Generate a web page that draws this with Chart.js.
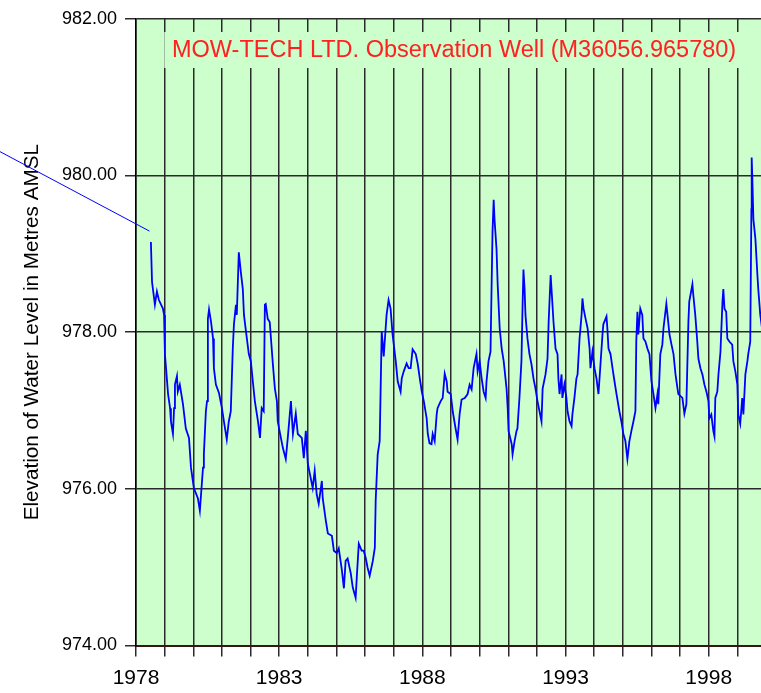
<!DOCTYPE html>
<html><head><meta charset="utf-8">
<script src="https://cdn.jsdelivr.net/npm/chart.js@4"></script>
<style>html,body{margin:0;padding:0;overflow:hidden;background:#fff;width:761px;height:693px}canvas{display:block}</style>
</head><body>
<canvas id="c" width="775" height="693" style="width:775px;height:693px"></canvas>
<script>
const titleText = 'MOW-TECH LTD. Observation Well (M36056.965780)';
const yAxisTitle = 'Elevation of Water Level in Metres AMSL';

const years = [1978.52,1978.56,1978.66,1978.73,1978.80,1978.94,1978.98,1979.01,1979.12,1979.19,1979.22,1979.29,1979.33,1979.36,1979.43,1979.46,1979.53,1979.64,1979.74,1979.85,1979.92,1980.02,1980.16,1980.23,1980.34,1980.37,1980.44,1980.48,1980.51,1980.55,1980.62,1980.69,1980.72,1980.79,1980.90,1981.00,1981.07,1981.17,1981.24,1981.31,1981.38,1981.42,1981.49,1981.52,1981.59,1981.66,1981.73,1981.77,1981.84,1981.94,1982.01,1982.08,1982.15,1982.26,1982.33,1982.39,1982.46,1982.50,1982.53,1982.60,1982.67,1982.78,1982.85,1982.92,1982.95,1983.06,1983.13,1983.23,1983.30,1983.41,1983.48,1983.58,1983.65,1983.79,1983.86,1983.93,1984.00,1984.10,1984.17,1984.24,1984.31,1984.38,1984.49,1984.52,1984.63,1984.70,1984.84,1984.91,1985.01,1985.08,1985.19,1985.26,1985.32,1985.39,1985.50,1985.57,1985.67,1985.71,1985.78,1985.88,1985.95,1986.02,1986.09,1986.16,1986.27,1986.34,1986.37,1986.44,1986.51,1986.58,1986.65,1986.75,1986.82,1986.89,1986.96,1987.07,1987.14,1987.24,1987.28,1987.35,1987.45,1987.52,1987.59,1987.66,1987.77,1987.84,1987.91,1987.98,1988.05,1988.15,1988.19,1988.25,1988.32,1988.36,1988.43,1988.50,1988.53,1988.64,1988.71,1988.78,1988.85,1988.88,1988.99,1989.06,1989.16,1989.23,1989.30,1989.37,1989.48,1989.58,1989.65,1989.72,1989.79,1989.89,1989.93,1990.00,1990.07,1990.14,1990.21,1990.24,1990.31,1990.38,1990.42,1990.45,1990.49,1990.52,1990.59,1990.63,1990.70,1990.77,1990.84,1990.94,1990.98,1991.01,1991.12,1991.15,1991.22,1991.29,1991.32,1991.39,1991.46,1991.50,1991.53,1991.57,1991.60,1991.67,1991.74,1991.81,1991.88,1991.95,1992.02,1992.09,1992.16,1992.20,1992.30,1992.37,1992.41,1992.48,1992.51,1992.58,1992.65,1992.72,1992.75,1992.79,1992.86,1992.89,1992.96,1993.03,1993.07,1993.14,1993.21,1993.24,1993.31,1993.38,1993.42,1993.49,1993.56,1993.59,1993.63,1993.70,1993.77,1993.84,1993.87,1993.94,1994.01,1994.08,1994.15,1994.22,1994.29,1994.32,1994.43,1994.46,1994.50,1994.57,1994.64,1994.71,1994.78,1994.88,1994.95,1995.02,1995.09,1995.16,1995.23,1995.30,1995.37,1995.44,1995.47,1995.51,1995.54,1995.61,1995.68,1995.72,1995.79,1995.86,1995.93,1996.00,1996.07,1996.14,1996.21,1996.24,1996.31,1996.38,1996.42,1996.52,1996.56,1996.63,1996.70,1996.77,1996.84,1996.91,1996.94,1997.08,1997.15,1997.22,1997.29,1997.32,1997.43,1997.46,1997.53,1997.60,1997.64,1997.71,1997.78,1997.85,1997.92,1997.99,1998.02,1998.09,1998.16,1998.20,1998.23,1998.30,1998.34,1998.41,1998.48,1998.51,1998.55,1998.61,1998.65,1998.72,1998.82,1998.86,1998.93,1999.00,1999.03,1999.10,1999.17,1999.21,1999.28,1999.35,1999.38,1999.45,1999.49,1999.50,1999.52,1999.56,1999.63,1999.70,1999.73,1999.80,1999.86];

const levels = [979.15,978.64,978.35,978.52,978.41,978.30,978.22,977.72,977.21,977.03,976.86,976.70,977.03,977.33,977.44,977.24,977.33,977.08,976.77,976.65,976.27,976.01,975.88,975.72,976.27,976.44,976.99,977.12,978.17,978.29,978.13,977.92,977.54,977.33,977.22,977.03,976.86,976.63,976.86,976.99,977.79,978.10,978.35,978.22,979.02,978.77,978.55,978.22,978.01,977.72,977.63,977.37,977.12,976.86,976.65,977.03,976.99,978.35,978.36,978.17,978.13,977.59,977.28,977.12,976.86,976.65,976.52,976.38,976.65,977.12,976.70,976.96,976.70,976.65,976.39,976.74,976.32,976.14,976.01,976.23,975.93,975.81,976.10,975.88,975.59,975.43,975.40,975.21,975.18,975.24,974.96,974.73,975.08,975.11,974.92,974.74,974.61,974.87,975.30,975.21,975.21,975.12,974.99,974.89,975.08,975.25,975.85,976.44,976.61,978.01,977.69,978.22,978.41,978.30,977.97,977.63,977.37,977.24,977.41,977.50,977.60,977.54,977.54,977.78,977.72,977.59,977.41,977.24,977.12,976.90,976.70,976.58,976.57,976.70,976.61,976.95,977.03,977.12,977.16,977.47,977.37,977.24,977.21,976.99,976.77,976.63,976.95,977.14,977.16,977.21,977.33,977.27,977.54,977.72,977.50,977.63,977.41,977.24,977.16,977.37,977.63,977.75,978.64,979.28,979.69,979.44,979.06,978.61,978.05,977.79,977.63,977.28,977.03,976.74,976.57,976.44,976.61,976.74,976.77,977.16,977.63,978.35,978.80,978.55,978.22,977.92,977.72,977.59,977.41,977.28,977.12,976.99,976.86,977.28,977.46,977.66,978.13,978.73,978.55,978.13,977.79,977.72,977.41,977.21,977.46,977.16,977.33,977.16,976.99,976.86,976.80,976.95,977.16,977.41,977.46,977.92,978.22,978.43,978.30,978.17,978.05,977.79,977.54,977.75,977.54,977.41,977.21,977.59,977.97,978.10,978.20,978.05,977.79,977.72,977.54,977.37,977.21,976.99,976.86,976.70,976.61,976.38,976.61,976.74,976.86,976.99,977.88,978.26,977.97,978.30,978.22,977.92,977.88,977.79,977.72,977.37,977.21,977.03,977.21,977.08,977.72,977.84,978.05,978.36,978.22,977.97,977.84,977.72,977.46,977.28,977.21,977.16,976.96,977.08,978.13,978.39,978.61,978.48,978.22,977.88,977.66,977.54,977.46,977.33,977.24,977.12,976.90,976.95,976.74,976.67,977.16,977.24,977.46,977.75,978.39,978.55,978.30,978.26,977.92,977.88,977.84,977.63,977.50,977.33,976.95,976.83,977.16,976.95,977.46,977.63,977.72,977.88,979.57,980.23,980.00,979.44,979.19,978.73,978.55,978.22,978.05];

// stray segment entering from the left of the plot
const leadYears = [1972.5, 1978.47];
const leadLevels = [980.45, 979.29];

const xTickYears = [1978,1979,1980,1981,1982,1983,1984,1985,1986,1987,1988,1989,1990,1991,1992,1993,1994,1995,1996,1997,1998,1999,2000];
const xLabelYears = [1978,1983,1988,1993,1998];
const yTickValues = [974,976,978,980,982];

const bgPlugin = {
  id:'bg',
  beforeDraw(chart){
    const {ctx, chartArea:a} = chart;
    ctx.save();
    ctx.fillStyle = '#ffffff';
    ctx.fillRect(0,0,chart.width,chart.height);
    ctx.fillStyle = '#ccffcc';
    ctx.fillRect(a.left, a.top, a.right-a.left, a.bottom-a.top);
    ctx.restore();
  }
};
const titlePlugin = {
  id:'titlebox',
  afterDatasetsDraw(chart){
    const ctx = chart.ctx;
    ctx.save();
    ctx.fillStyle = '#ccffcc';
    ctx.fillRect(164, 32, 584, 36);
    ctx.strokeStyle = '#9fbf9f';
    ctx.lineWidth = 1;
    ctx.beginPath(); ctx.moveTo(164.5, 32); ctx.lineTo(164.5, 68); ctx.stroke();
    ctx.fillStyle = '#ff2020';
    ctx.font = '23.5px "Liberation Sans"';
    ctx.textBaseline = 'middle';
    ctx.textAlign = 'left';
    ctx.fillText(titleText, 172, 51);
    ctx.restore();
  }
};

new Chart(document.getElementById('c').getContext('2d'), {
  type:'line',
  data:{datasets:[
    {data: years.map((x,i)=>({x:x, y:levels[i]})), borderColor:'#0000ff', borderWidth:1.8, pointRadius:0, tension:0, fill:false},
    {data: leadYears.map((x,i)=>({x:x, y:leadLevels[i]})), borderColor:'#0000ff', borderWidth:1, pointRadius:0, tension:0, fill:false, clip:false}
  ]},
  options:{
    responsive:false, animation:false, devicePixelRatio:1,
    layout:{padding:{top:16,left:0,right:0,bottom:0}},
    plugins:{legend:{display:false}, tooltip:{enabled:false}},
    scales:{
      x:{type:'linear', min:1978, max:2000,
        afterBuildTicks:s=>{s.ticks = xTickYears.map(v=>({value:v}));},
        afterFit:s=>{s.height = 47.5;},
        ticks:{autoSkip:false, maxRotation:0, padding:9, color:'#000',
          font:{family:'Liberation Sans', size:21},
          callback:v=> xLabelYears.includes(v) ? String(v) : ''},
        grid:{color:'#2a2a2a', lineWidth:1.5, tickLength:11, tickColor:'#2a2a2a'},
        border:{color:'#3a1515', width:2}
      },
      y:{type:'linear', min:974, max:982,
        afterBuildTicks:s=>{s.ticks = yTickValues.map(v=>({value:v}));},
        afterFit:s=>{s.width = 136;},
        ticks:{padding:8, color:'#000', font:{family:'Liberation Sans', size:18}, callback:v=>Number(v).toFixed(2)},
        grid:{color:'#2a2a2a', lineWidth:1.5, tickLength:11, tickColor:'#2a2a2a'},
        border:{color:'#000', width:1.5},
        title:{display:true, text:yAxisTitle, color:'#000', font:{family:'Liberation Sans', size:20.7}, padding:{top:19.5,bottom:0}}
      }
    }
  },
  plugins:[bgPlugin, titlePlugin]
});
</script>
</body></html>
